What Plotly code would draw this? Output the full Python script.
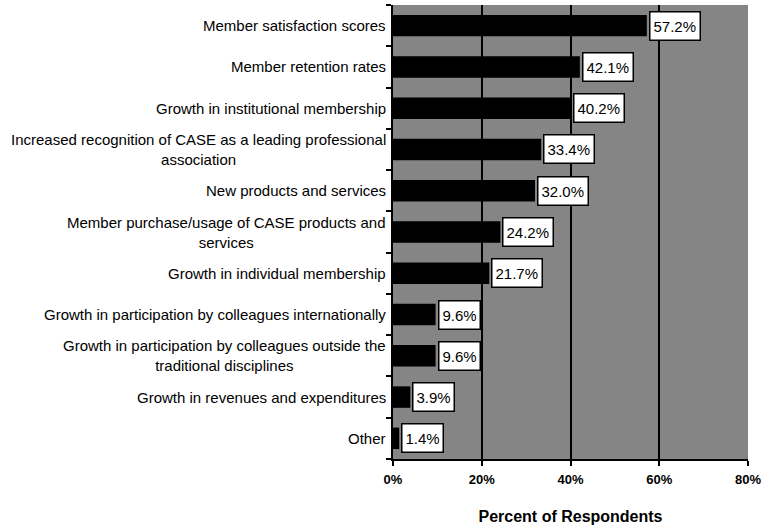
import plotly.graph_objects as go

categories = [
    "Member satisfaction scores",
    "Member retention rates",
    "Growth in institutional membership",
    "Increased recognition of CASE as a leading professional<br>association",
    "New products and services",
    "Member purchase/usage of CASE products and<br>services",
    "Growth in individual membership",
    "Growth in participation by colleagues internationally",
    "Growth in participation by colleagues outside the<br>traditional disciplines",
    "Growth in revenues and expenditures",
    "Other",
]
values = [57.2, 42.1, 40.2, 33.4, 32.0, 24.2, 21.7, 9.6, 9.6, 3.9, 1.4]
value_labels = ["57.2%", "42.1%", "40.2%", "33.4%", "32.0%", "24.2%", "21.7%",
                "9.6%", "9.6%", "3.9%", "1.4%"]
x_ticks = [0, 20, 40, 60, 80]
x_tick_labels = ["0%", "20%", "40%", "60%", "80%"]

FONT = "Liberation Sans, Arial, sans-serif"

# use index keys so category text can be drawn as centered annotations
keys = [f"c{i}" for i in range(len(categories))]

fig = go.Figure()
fig.add_trace(go.Bar(
    x=values, y=keys, orientation="h",
    marker=dict(color="black", line=dict(width=0)),
    hoverinfo="skip",
))

annotations = []
for k, cat in zip(keys, categories):
    annotations.append(dict(
        x=0, xref="paper", y=k, yref="y", text=cat, showarrow=False,
        xanchor="right", yanchor="middle", align="center", xshift=-5,
        font=dict(family=FONT, size=15, color="black"),
    ))
for k, v, lab in zip(keys, values, value_labels):
    annotations.append(dict(
        x=v, xref="x", y=k, yref="y", text=lab, showarrow=False,
        xanchor="left", yanchor="middle", xshift=2,
        height=21,
        bgcolor="white", bordercolor="black", borderwidth=1.5, borderpad=3,
        font=dict(family=FONT, size=15, color="black"),
    ))

fig.update_layout(
    width=766, height=528,
    margin=dict(l=393, r=14, t=5, b=62),
    paper_bgcolor="white",
    plot_bgcolor="#858585",
    bargap=0.48,
    showlegend=False,
    annotations=annotations,
    font=dict(family=FONT, color="black"),
)
fig.update_xaxes(
    range=[0, 80], tickvals=x_ticks, ticktext=x_tick_labels,
    showgrid=True, gridcolor="black", gridwidth=2,
    ticks="outside", ticklen=5, tickcolor="black", tickwidth=1.5,
    tickfont=dict(size=13, family=FONT, weight="bold"),
    ticklabeloverflow="allow", ticklabelstandoff=3,
    showline=True, linecolor="black", linewidth=1.5,
    zeroline=False,
    title=dict(text="<b>Percent of Respondents</b>", standoff=24,
               font=dict(size=16, family=FONT)),
)
fig.update_yaxes(
    categoryorder="array", categoryarray=keys[::-1],
    showticklabels=False, tickson="boundaries",
    ticks="outside", ticklen=5, tickcolor="black", tickwidth=1.5,
    showline=True, linecolor="black", linewidth=1.5,
    showgrid=False, zeroline=False,
)

fig.write_html(
    "out.html",
    config={"displayModeBar": False},
    post_script="document.body.style.margin='0';document.body.style.overflow='hidden';",
)
